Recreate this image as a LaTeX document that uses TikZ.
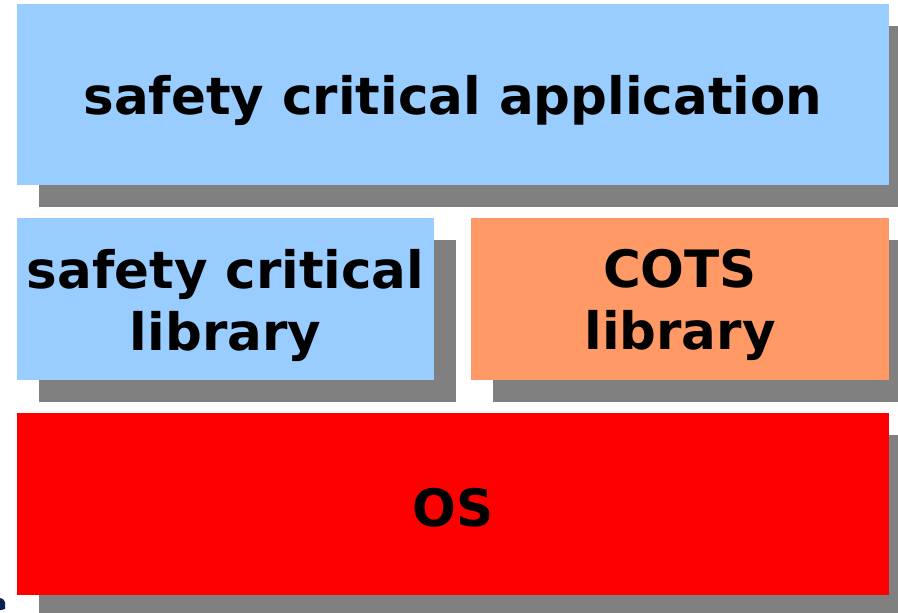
\documentclass[tikz,border=0pt]{standalone}
\usepackage{fontspec}
\setmainfont{DejaVu Sans}
\definecolor{skyblue}{HTML}{99CCFF}
\definecolor{salmon}{HTML}{FF9966}
\definecolor{osred}{HTML}{FF0000}
\definecolor{shadowgray}{HTML}{808080}
\definecolor{navyfrag}{HTML}{0A2050}
\tikzset{
  layerbox/.style={rectangle, inner sep=0pt, outer sep=0pt, anchor=north west,
    preaction={fill=shadowgray, transform canvas={shift={(22pt,-22pt)}}}},
  layertext/.style={inner sep=0pt, align=center, yshift=-6pt,
    font=\fontsize{51.5}{62}\selectfont\bfseries},
}
\begin{document}
\begin{tikzpicture}[x=1pt,y=1pt]
\useasboundingbox (0,0) rectangle (898,-613);
\node[layerbox, fill=skyblue, minimum width=872pt, minimum height=181pt] (app) at (17,-4) {};
\node[layerbox, fill=skyblue, minimum width=417pt, minimum height=162pt] (sclib) at (17,-218) {};
\node[layerbox, fill=salmon, minimum width=418pt, minimum height=162pt] (cots) at (471,-218) {};
\node[layerbox, fill=osred, minimum width=872pt, minimum height=182pt] (os) at (17,-413) {};
\node[layertext] (apptxt) at (app.center) {safety critical application};
\node[layertext] (sclibtxt) at (sclib.center) {safety critical\\library};
\node[layertext] (cotstxt) at (cots.center) {COTS\\library};
\node[layertext, yshift=2pt] (ostxt) at (os.center) {OS};
\fill[navyfrag] (0,-598) -- (3,-599) -- (5,-602) -- (5,-609) -- (1,-610) -- (0,-610) -- cycle;
\end{tikzpicture}
\end{document}
